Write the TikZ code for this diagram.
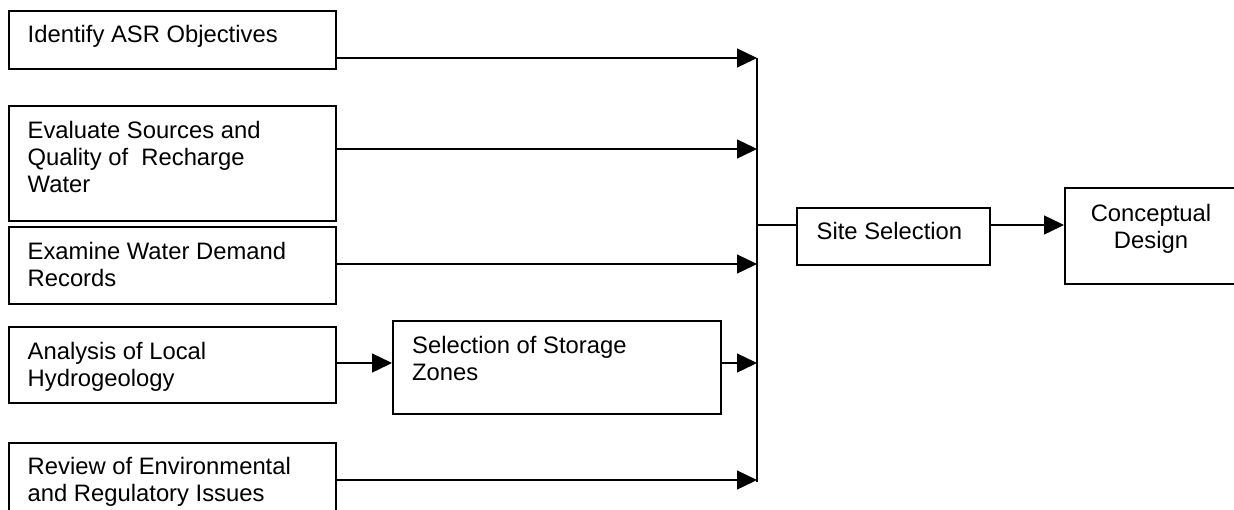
\documentclass[tikz,border=0pt]{standalone}
\usepackage{fontspec}
\setmainfont{Liberation Sans}
\usetikzlibrary{arrows.meta}
\tikzset{
  box/.style={draw, line width=1.6pt, inner sep=0pt, anchor=north west},
  txt/.style={font=\fontsize{23.8}{26.8}\selectfont, inner sep=0pt, align=left, anchor=north west},
  ctxt/.style={font=\fontsize{23.8}{26.8}\selectfont, inner sep=0pt, align=center, anchor=north},
  conn/.style={line width=1.4pt},
  arr/.style={line width=1.4pt, -{Triangle[length=20pt,width=19pt]}}
}
\begin{document}
\begin{tikzpicture}[x=1pt,y=-1pt]
\clip (0,0) rectangle (1234,509);
\fill[white] (0,0) rectangle (1234,509);
% boxes
\node[box, minimum width=327pt, minimum height=58pt] (b1) at (8,10) {};
\node[box, minimum width=327pt, minimum height=115pt] (b2) at (8,105) {};
\node[box, minimum width=327pt, minimum height=77pt] (b3) at (8,226) {};
\node[box, minimum width=327pt, minimum height=76pt] (b4) at (8,326) {};
\node[box, minimum width=327pt, minimum height=90pt] (b5) at (8,442) {};
\node[box, minimum width=328pt, minimum height=93pt] (stor) at (392,320) {};
\node[box, minimum width=193pt, minimum height=57pt] (site) at (796,207) {};
\node[box, minimum width=174pt, minimum height=96pt] (concept) at (1064,187) {};
% texts
\node[txt] (t1) at (27.5,25) {Identify ASR Objectives};
\node[txt] (t2) at (27.5,121.5) {Evaluate Sources and\\Quality of~ Recharge\\Water};
\node[txt] (t3) at (27.5,242.5) {Examine Water Demand\\Records};
\node[txt] (t4) at (27.5,342.5) {Analysis of Local\\Hydrogeology};
\node[txt] (t5) at (27.5,457.5) {Review of Environmental\\and Regulatory Issues};
\node[txt] (ts) at (412,336.5) {Selection of Storage\\Zones};
\node[txt] (tsite) at (816.5,222) {Site Selection};
\node[ctxt] (tc) at (1151,204.5) {Conceptual\\Design};
% junction coordinates
\coordinate (j1) at (757,58);
\coordinate (j2) at (757,149);
\coordinate (j3) at (757,264);
\coordinate (j4) at (757,363);
\coordinate (j5) at (757,480);
\coordinate (jb) at (757,482);
\coordinate (js) at (757,225);
% connectors
\draw[conn] (j1) -- (jb);
\draw[arr] (b1.east |- j1) -- (j1);
\draw[arr] (b2.east |- j2) -- (j2);
\draw[arr] (b3.east |- j3) -- (j3);
\draw[arr] (b4.east |- j4) -- (stor.west |- j4);
\draw[arr] (stor.east |- j4) -- (j4);
\draw[arr] (b5.east |- j5) -- (j5);
\draw[conn] (js) -- (site.west |- js);
\draw[arr] (site.east |- js) -- (concept.west |- js);
\end{tikzpicture}
\end{document}
